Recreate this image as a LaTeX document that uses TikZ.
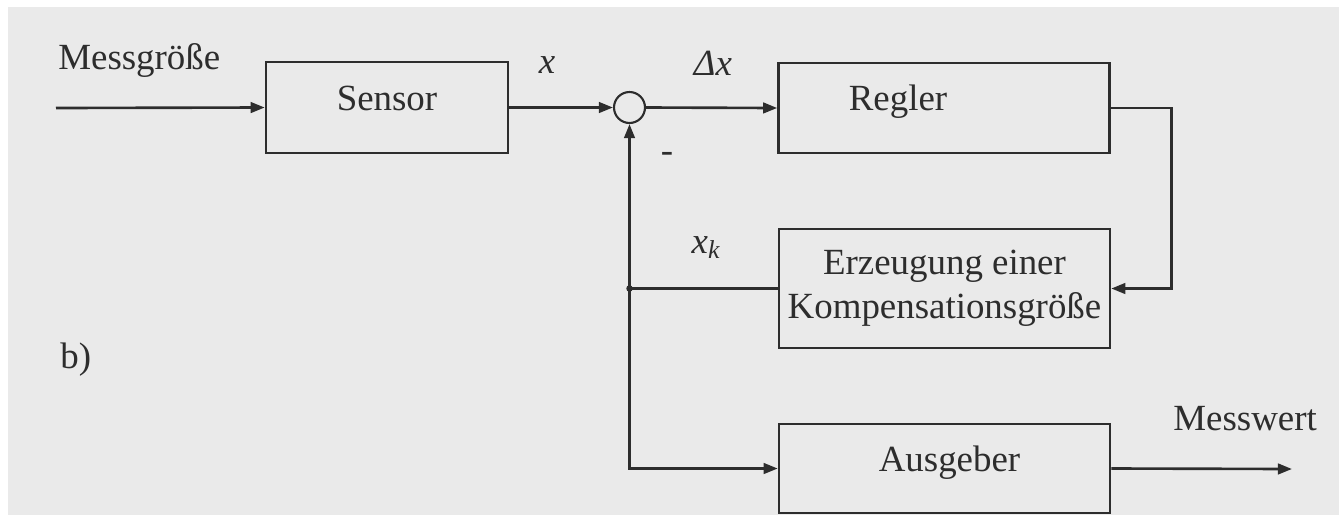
\documentclass[tikz,border=0pt]{standalone}
\usepackage{fontspec}
\setmainfont{Liberation Serif}
\usetikzlibrary{arrows.meta}
\definecolor{scan}{RGB}{234,234,234}
\definecolor{ink}{RGB}{45,45,45}

\tikzset{
  >={Triangle[length=8pt,width=6pt]},   % arrow tips
  block/.style={draw=ink, line width=1.5pt, minimum width=6.62cm, inner sep=0pt, text=ink},
  wire/.style={draw=ink, line width=1.5pt},
  txt/.style={anchor=base, inner sep=0pt, text=ink},
}

\begin{document}
\begin{tikzpicture}[x=0.02cm, y=-0.02cm, font=\fontsize{21}{25}\selectfont]
	% page
	\useasboundingbox (0,0) rectangle (1339,515);
	\fill[white] (0,0) rectangle (1339,515);
	\fill[scan] (8,7) rectangle (1339,515);

	% blocks
	\node[block, minimum width=4.84cm, minimum height=1.82cm, text height=.7em, text depth=.4em]
		(sensor) at (387,107.5) {Sensor};
	\node[draw=ink, line width=1.2pt, circle, minimum size=0.62cm, inner sep=0pt]
		(sum) at (629.5,107.5) {};
	\node[block, minimum height=1.8cm, text height=.7em, text depth=.4em]
		(regler) at (944,108) {Regler\hspace*{1.84cm}};
	\node[block, minimum height=2.38cm, align=center]
		(erzeugung) at (944.5,288.5) {Erzeugung einer\\Kompensationsgröße};
	\node[block, minimum height=1.78cm, text height=.7em, text depth=.4em]
		(ausgeber) at (944.5,468.5) {\hspace*{0.2cm}Ausgeber};

	% free ends
	\coordinate (in) at (56,108);
	\coordinate (out) at (1292,469);
	\coordinate (junc) at (629.5,288.5);

	% connectors
	\draw[wire,->] (in) -- (sensor.west);
	\draw[wire,->] (sensor.east) -- (sum.west);
	\draw[wire,->] (sum.east) -- (regler.west);
	\draw[wire,->] (regler.east) -- ++(61,0) |- (erzeugung.east);
	\draw[wire] (erzeugung.west) -- (junc);
	\draw[wire,->] (junc) -- (sum.south);
	\draw[wire,->] (junc) |- (ausgeber.west);
	\draw[wire,->] (ausgeber.east) -- (out);
	\fill[ink] (junc) circle (0.065cm);

	% labels
	\node[txt, anchor=base west] (messgroesse) at (58,69) {Messgröße};
	\node[txt] (xlab) at (547,73) {\textit{x}};
	\node[txt] (dxlab) at (713,75) {\textit{Δx}};
	\node[txt] (xklab) at (706,253) {\textit{x\textsubscript{k}}};
	\node[txt] (minus) at (667,162) {-};
	\node[txt, anchor=base west] (messwert) at (1173,430) {Messwert};
	\node[txt, anchor=base west] (blab) at (60,368) {b)};
\end{tikzpicture}
\end{document}
